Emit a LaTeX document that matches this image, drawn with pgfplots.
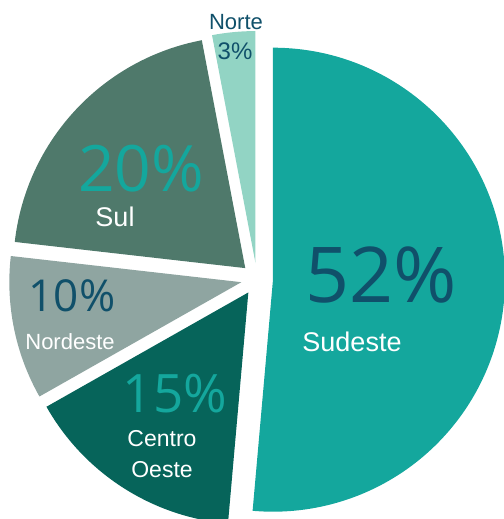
\documentclass[border=0pt]{standalone}
\usepackage{pgfplots}
\usepackage{pgfplotstable}
\pgfplotsset{compat=1.18}
\usepackage{fontspec}
\setmainfont{Liberation Sans}
\newfontfamily\pctfont{Open Sans}

\definecolor{cSud}{HTML}{14A79D}
\definecolor{cCO}{HTML}{06645A}
\definecolor{cNE}{HTML}{8FA5A1}
\definecolor{cSul}{HTML}{4F796B}
\definecolor{cNo}{HTML}{92D4C4}
\definecolor{darkt}{HTML}{10506A}

% share per region, clockwise from 12 o'clock
\pgfplotstableread{
region value fillc
Sudeste 51.4 cSud
CentroOeste 15.4 cCO
Nordeste 10.0 cNE
Sul 20.2 cSul
Norte 3.0 cNo
}\piedata

\begin{document}
\begin{tikzpicture}[every node/.style={inner sep=0pt}]
\useasboundingbox (0,0) rectangle (251.5pt,259.5pt);
\begin{axis}[
    at={(0,0)}, anchor=south west,
    x=0.5pt, y=0.5pt,
    xmin=0, xmax=503, ymin=0, ymax=519,
    hide axis, clip=false,
]
\def\angA{90}
\pgfplotsforeachungrouped \i in {0,...,4}{
  \pgfplotstablegetelem{\i}{value}\of\piedata \let\val\pgfplotsretval
  \pgfplotstablegetelem{\i}{fillc}\of\piedata \let\col\pgfplotsretval
  \pgfmathsetmacro{\angB}{\angA-3.6*\val}
  \pgfmathsetmacro{\angM}{(\angA+\angB)/2}
  \pgfmathsetmacro{\tx}{257+16*cos(\angM)}
  \pgfmathsetmacro{\ty}{240+16*sin(\angM)}
  \edef\temp{\noexpand\fill[\col] (axis cs:\tx,\ty) -- ++(\angA:116pt)
    arc[start angle=\angA, end angle=\angB, radius=116pt] -- cycle;}
  \temp
  \global\let\angA\angB
}

\node[darkt, font=\pctfont\fontsize{38.5}{38}\selectfont] at (axis cs:381,244) {52\%};
\node[white, font=\fontsize{13.5}{14}\selectfont] at (axis cs:352,177) {Sudeste};
\node[cSud, font=\pctfont\fontsize{32}{32}\selectfont] at (axis cs:141,350) {20\%};
\node[white, font=\fontsize{13.5}{14}\selectfont] at (axis cs:115,302) {Sul};
\node[darkt, font=\pctfont\fontsize{22}{22}\selectfont] at (axis cs:72,223) {10\%};
\node[white, font=\fontsize{11}{12}\selectfont] at (axis cs:70,177) {Nordeste};
\node[cSud, font=\pctfont\fontsize{26.5}{26.5}\selectfont] at (axis cs:175,125) {15\%};
\node[white, font=\fontsize{11.5}{12}\selectfont] at (axis cs:162,80) {Centro};
\node[white, font=\fontsize{11.5}{12}\selectfont] at (axis cs:162,49) {Oeste};
\node[darkt, font=\fontsize{11}{12}\selectfont] at (axis cs:236,497) {Norte};
\node[darkt, font=\fontsize{12}{12}\selectfont] at (axis cs:235,468) {3\%};
\end{axis}
\end{tikzpicture}
\end{document}
